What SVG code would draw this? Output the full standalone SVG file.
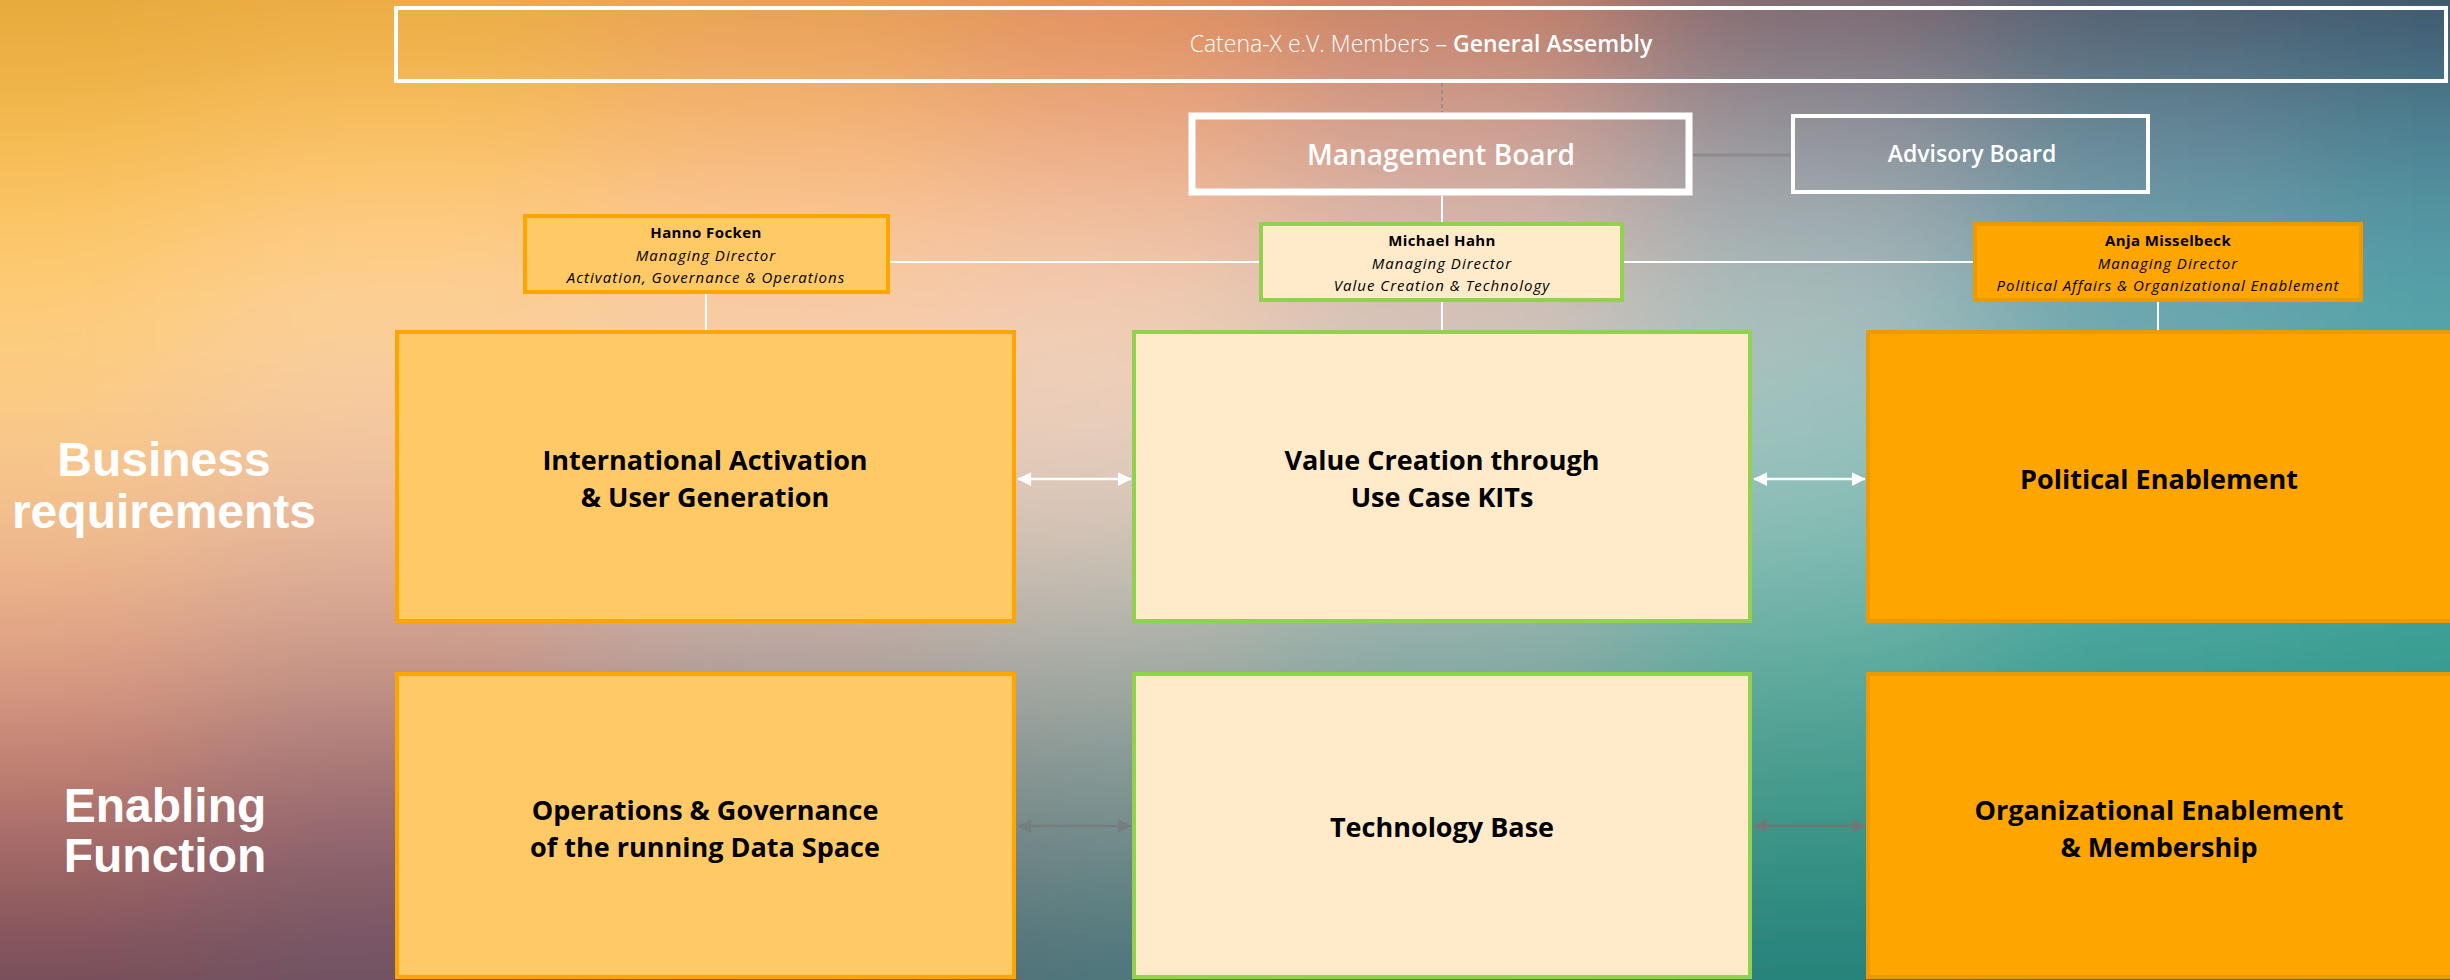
<svg xmlns="http://www.w3.org/2000/svg" width="2450" height="980" viewBox="0 0 2450 980">
<defs>
<filter id="soft" filterUnits="userSpaceOnUse" x="-500" y="-500" width="3500" height="2000">
<feGaussianBlur stdDeviation="85"/>
</filter>
<marker id="aw" viewBox="0 0 10 10" refX="9.5" refY="5" markerWidth="6" markerHeight="5.5" orient="auto-start-reverse" markerUnits="strokeWidth">
<path d="M0,0 L10,5 L0,10 z" fill="#FFFFFF"/>
</marker>
<marker id="ag" viewBox="0 0 10 10" refX="9.5" refY="5" markerWidth="6" markerHeight="5.5" orient="auto-start-reverse" markerUnits="strokeWidth">
<path d="M0,0 L10,5 L0,10 z" fill="#757575"/>
</marker>
<style>
.side{font-family:"Liberation Sans",Arial,sans-serif;font-weight:bold;font-size:48px;fill:#FFFFFF;text-anchor:middle}
.big{font-family:"Open Sans","Noto Sans",sans-serif;font-weight:bold;font-size:27px;fill:#000000;text-anchor:middle}
.nm{font-family:"Open Sans","Noto Sans",sans-serif;font-weight:bold;font-size:15px;letter-spacing:0.4px;fill:#000000;text-anchor:middle}
.it{font-family:"Open Sans","Noto Sans",sans-serif;font-style:italic;font-size:15px;letter-spacing:1px;fill:#000000;text-anchor:middle}
.wt{font-family:"Open Sans","Noto Sans",sans-serif;fill:#FFFFFF;text-anchor:middle}
.orgL{fill:#FFC966;stroke:#FFA500;stroke-width:4}
.orgM{fill:#FFEACA;stroke:#92D050;stroke-width:4}
.orgR{fill:#FFA500;stroke:#EC9A00;stroke-width:4}
.wl{stroke:#FFFFFF;stroke-width:2;fill:none}
</style>
</defs>
<g id="background">
<rect x="0" y="0" width="2450" height="980" fill="#B0A898"/>
<g filter="url(#soft)">
<rect x="-400" y="-400" width="600" height="480" fill="#E3A639"/>
<rect x="200" y="-400" width="400" height="480" fill="#E8A83E"/>
<rect x="600" y="-400" width="350" height="480" fill="#E59C48"/>
<rect x="950" y="-400" width="325" height="480" fill="#E08C52"/>
<rect x="1275" y="-400" width="350" height="480" fill="#C47A5C"/>
<rect x="1625" y="-400" width="350" height="480" fill="#7C5E66"/>
<rect x="1975" y="-400" width="325" height="480" fill="#4C5468"/>
<rect x="2300" y="-400" width="550" height="480" fill="#3C4C62"/>
<rect x="-400" y="80" width="600" height="160" fill="#F9BE52"/>
<rect x="200" y="80" width="400" height="160" fill="#FEC563"/>
<rect x="600" y="80" width="350" height="160" fill="#FABC7E"/>
<rect x="950" y="80" width="325" height="160" fill="#EFB08A"/>
<rect x="1275" y="80" width="350" height="160" fill="#D4A89C"/>
<rect x="1625" y="80" width="350" height="160" fill="#989CA6"/>
<rect x="1975" y="80" width="325" height="160" fill="#6A90A0"/>
<rect x="2300" y="80" width="550" height="160" fill="#508A9C"/>
<rect x="-400" y="240" width="600" height="160" fill="#FFD07C"/>
<rect x="200" y="240" width="400" height="160" fill="#FDD39C"/>
<rect x="600" y="240" width="350" height="160" fill="#FBD0AA"/>
<rect x="950" y="240" width="325" height="160" fill="#F4D2B8"/>
<rect x="1275" y="240" width="350" height="160" fill="#D8C6BC"/>
<rect x="1625" y="240" width="350" height="160" fill="#ADC2C0"/>
<rect x="1975" y="240" width="325" height="160" fill="#70AAB2"/>
<rect x="2300" y="240" width="550" height="160" fill="#56A6AC"/>
<rect x="-400" y="400" width="600" height="160" fill="#F7C690"/>
<rect x="200" y="400" width="400" height="160" fill="#F0C2A2"/>
<rect x="600" y="400" width="350" height="160" fill="#E6C4B2"/>
<rect x="950" y="400" width="325" height="160" fill="#E2CCBE"/>
<rect x="1275" y="400" width="350" height="160" fill="#BCC6C0"/>
<rect x="1625" y="400" width="350" height="160" fill="#92C2BC"/>
<rect x="1975" y="400" width="325" height="160" fill="#5CB0AA"/>
<rect x="2300" y="400" width="550" height="160" fill="#48A8A2"/>
<rect x="-400" y="560" width="600" height="160" fill="#E3A488"/>
<rect x="200" y="560" width="400" height="160" fill="#CF9C8C"/>
<rect x="600" y="560" width="350" height="160" fill="#BCA8A2"/>
<rect x="950" y="560" width="325" height="160" fill="#AAB0A8"/>
<rect x="1275" y="560" width="350" height="160" fill="#8EAEA8"/>
<rect x="1625" y="560" width="350" height="160" fill="#62AEA2"/>
<rect x="1975" y="560" width="325" height="160" fill="#44A49A"/>
<rect x="2300" y="560" width="550" height="160" fill="#3AA095"/>
<rect x="-400" y="720" width="600" height="170" fill="#B2706A"/>
<rect x="200" y="720" width="400" height="170" fill="#986870"/>
<rect x="600" y="720" width="350" height="170" fill="#7E7C80"/>
<rect x="950" y="720" width="325" height="170" fill="#78908E"/>
<rect x="1275" y="720" width="350" height="170" fill="#5E9290"/>
<rect x="1625" y="720" width="350" height="170" fill="#3C9888"/>
<rect x="1975" y="720" width="325" height="170" fill="#2E9286"/>
<rect x="2300" y="720" width="550" height="170" fill="#2A8E84"/>
<rect x="-400" y="890" width="600" height="510" fill="#6E4858"/>
<rect x="200" y="890" width="400" height="510" fill="#6A5060"/>
<rect x="600" y="890" width="350" height="510" fill="#556070"/>
<rect x="950" y="890" width="325" height="510" fill="#447278"/>
<rect x="1275" y="890" width="350" height="510" fill="#3A7A7C"/>
<rect x="1625" y="890" width="350" height="510" fill="#22807A"/>
<rect x="1975" y="890" width="325" height="510" fill="#1F7F78"/>
<rect x="2300" y="890" width="550" height="510" fill="#1E7E76"/>
</g>
</g>
<g id="connectors">
<line x1="1442" y1="83" x2="1442" y2="112" stroke="#8A8A8A" stroke-width="1.5" stroke-dasharray="4 3"/>
<line x1="1693" y1="155" x2="1791" y2="155" stroke="#8C8C8C" stroke-width="3"/>
<line class="wl" x1="1442" y1="196" x2="1442" y2="222"/>
<line class="wl" x1="890" y1="262" x2="1259" y2="262"/>
<line class="wl" x1="1624" y1="262" x2="1973" y2="262"/>
<line class="wl" x1="706" y1="294" x2="706" y2="331"/>
<line class="wl" x1="1442" y1="302" x2="1442" y2="331"/>
<line class="wl" x1="2158" y1="302" x2="2158" y2="331"/>
<line x1="1018" y1="479" x2="1131" y2="479" stroke="#FFFFFF" stroke-width="2.5" marker-start="url(#aw)" marker-end="url(#aw)"/>
<line x1="1754" y1="479" x2="1865" y2="479" stroke="#FFFFFF" stroke-width="2.5" marker-start="url(#aw)" marker-end="url(#aw)"/>
<line x1="1018" y1="826" x2="1131" y2="826" stroke="#757575" stroke-width="2.5" marker-start="url(#ag)" marker-end="url(#ag)" opacity="0.6"/>
<line x1="1754" y1="826" x2="1865" y2="826" stroke="#757575" stroke-width="2.5" marker-start="url(#ag)" marker-end="url(#ag)" opacity="0.9"/>
</g>
<g id="label-business">
<text class="side" x="164" y="476">Business</text>
<text class="side" x="164" y="528">requirements</text>
</g>
<g id="label-enabling">
<text class="side" x="165" y="822">Enabling</text>
<text class="side" x="165" y="872">Function</text>
</g>
<g id="general-assembly">
<rect x="396" y="8" width="2050" height="73" fill="none" stroke="#FFFFFF" stroke-width="4"/>
<text class="wt" x="1421" y="52" font-size="23"><tspan font-weight="300">Catena-X e.V. Members – </tspan><tspan font-weight="600">General Assembly</tspan></text>
</g>
<g id="management-board">
<rect x="1192" y="116" width="497" height="76" fill="none" stroke="#FFFFFF" stroke-width="7"/>
<text class="wt" x="1441" y="165" font-size="28" font-weight="600">Management Board</text>
</g>
<g id="advisory-board">
<rect x="1793" y="116" width="355" height="76" fill="none" stroke="#FFFFFF" stroke-width="4"/>
<text class="wt" x="1972" y="162" font-size="23" font-weight="600">Advisory Board</text>
</g>
<g id="hanno-focken">
<rect class="orgL" x="525" y="216" width="363" height="76"/>
<text class="nm" x="706" y="238">Hanno Focken</text>
<text class="it" x="706" y="261">Managing Director</text>
<text class="it" x="706" y="283">Activation, Governance &amp; Operations</text>
</g>
<g id="michael-hahn">
<rect class="orgM" x="1261" y="224" width="361" height="76"/>
<text class="nm" x="1442" y="246">Michael Hahn</text>
<text class="it" x="1442" y="269">Managing Director</text>
<text class="it" x="1442" y="291">Value Creation &amp; Technology</text>
</g>
<g id="anja-misselbeck">
<rect class="orgR" x="1975" y="224" width="386" height="76"/>
<text class="nm" x="2168" y="246">Anja Misselbeck</text>
<text class="it" x="2168" y="269">Managing Director</text>
<text class="it" x="2168" y="291" letter-spacing="0.6">Political Affairs &amp; Organizational Enablement</text>
</g>
<g id="international-activation">
<rect class="orgL" x="397" y="332" width="617" height="289"/>
<text class="big" x="705" y="470">International Activation</text>
<text class="big" x="705" y="507">&amp; User Generation</text>
</g>
<g id="value-creation">
<rect class="orgM" x="1134" y="332" width="616" height="289"/>
<text class="big" x="1442" y="470">Value Creation through</text>
<text class="big" x="1442" y="507">Use Case KITs</text>
</g>
<g id="political-enablement">
<rect class="orgR" x="1868" y="332" width="590" height="289"/>
<text class="big" x="2159" y="489">Political Enablement</text>
</g>
<g id="operations-governance">
<rect class="orgL" x="397" y="674" width="617" height="303"/>
<text class="big" x="705" y="820">Operations &amp; Governance</text>
<text class="big" x="705" y="857">of the running Data Space</text>
</g>
<g id="technology-base">
<rect class="orgM" x="1134" y="674" width="616" height="303"/>
<text class="big" x="1442" y="837">Technology Base</text>
</g>
<g id="organizational-enablement">
<rect class="orgR" x="1868" y="674" width="590" height="303"/>
<text class="big" x="2159" y="820">Organizational Enablement</text>
<text class="big" x="2159" y="857">&amp; Membership</text>
</g>
</svg>
